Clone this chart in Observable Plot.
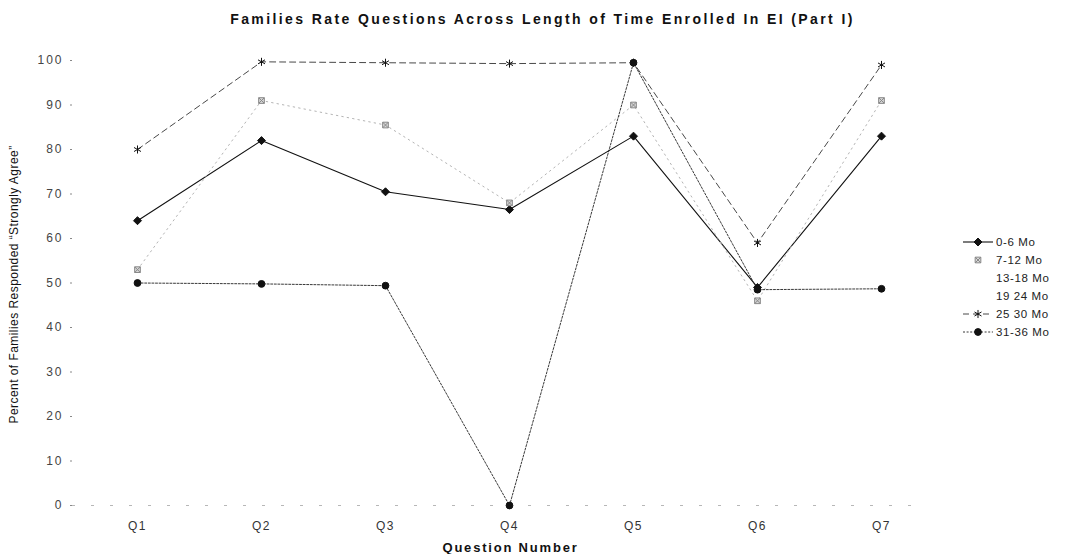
<!DOCTYPE html>
<html>
<head>
<meta charset="utf-8">
<script src="https://cdn.jsdelivr.net/npm/d3@7"></script>
<script src="https://cdn.jsdelivr.net/npm/@observablehq/plot@0.6"></script>
<style>
  html, body { margin: 0; padding: 0; background: #fff; }
  #wrap { position: relative; width: 1072px; height: 554px; font-family: "Liberation Sans", Arial, sans-serif; }
  #legend { position: absolute; left: 960px; top: 233px; font-size: 11.5px; color: #222; letter-spacing: 0.6px; }
  #legend .row { height: 18px; display: flex; align-items: center; }
  #legend svg { width: 36px; height: 18px; flex: none; }
</style>
</head>
<body>
<div id="wrap"></div>
<script>
// Question labels along the x axis
const questions = ["Q1", "Q2", "Q3", "Q4", "Q5", "Q6", "Q7"];

// Percent of families answering "Strongly Agree", by months enrolled
const mo0to6   = [64, 82, 70.5, 66.5, 83, 49, 83];
const mo7to12  = [53, 91, 85.5, 68, 90, 46, 91];
const mo25to30 = [80, 99.7, 99.5, 99.3, 99.5, 59, 99];
const mo31to36 = [50, 49.8, 49.4, 0, 99.5, 48.5, 48.7];

// Legend entries (13-18 and 19-24 carry no plotted values)
const seriesNames = ["0-6 Mo", "7-12 Mo", "13-18 Mo", "19 24 Mo", "25 30 Mo", "31-36 Mo"];

const yTicks = d3.range(0, 101, 10);

const titleText = "Families Rate Questions Across Length of Time Enrolled In EI (Part I)";
const xLabel = "Question Number";
const yLabel = "Percent of Families Responded \u201CStrongly Agree\u201D";

// Square with an X through it, for the 7-12 month series
const hatchSquare = {
  draw(ctx, size) {
    const r = Math.sqrt(size) / 2;
    ctx.moveTo(-r, -r); ctx.lineTo(r, -r); ctx.lineTo(r, r); ctx.lineTo(-r, r); ctx.closePath();
    ctx.moveTo(-r, -r); ctx.lineTo(r, r);
    ctx.moveTo(r, -r); ctx.lineTo(-r, r);
  }
};

const styles = {
  "0-6 Mo":   {values: mo0to6,   stroke: "#111", dash: null,    width: 1.1, symbol: "diamond2", d3sym: d3.symbolDiamond2, fill: "#111", mstroke: "#111", r: 3.6},
  "7-12 Mo":  {values: mo7to12,  stroke: "#b4b4b4", dash: "1.5,4", width: 1, symbol: hatchSquare, d3sym: hatchSquare, fill: "#d8d8d8", mstroke: "#888", r: 3.2},
  "25 30 Mo": {values: mo25to30, stroke: "#333", dash: "6,4",   width: 0.9, symbol: "asterisk", d3sym: d3.symbolAsterisk, fill: "none", mstroke: "#111", r: 3.8},
  "31-36 Mo": {values: mo31to36, stroke: "#222", dash: "2,1.6", width: 0.9, symbol: "circle", d3sym: d3.symbolCircle, fill: "#111", mstroke: "#111", r: 3.4}
};

const rows = [];
for (const [name, s] of Object.entries(styles)) {
  s.values.forEach((v, i) => rows.push({series: name, q: questions[i], v}));
}

const marks = [
  Plot.ruleY([0], {stroke: "#999", strokeDasharray: "3,16", strokeOpacity: 0.7}),
  Plot.axisY({ticks: yTicks, tickSize: 2, tickPadding: 7, fontSize: 12, color: "#444", stroke: "#888", label: null}),
  Plot.axisX({tickSize: 0, tickPadding: 16, fontSize: 12, color: "#333", label: null})
];

for (const [name, s] of Object.entries(styles)) {
  const data = rows.filter(d => d.series === name);
  marks.push(Plot.line(data, {x: "q", y: "v", stroke: s.stroke, strokeWidth: s.width, strokeDasharray: s.dash}));
}
for (const [name, s] of Object.entries(styles)) {
  const data = rows.filter(d => d.series === name);
  marks.push(Plot.dot(data, {x: "q", y: "v", symbol: s.symbol, r: s.r, fill: s.fill, stroke: s.mstroke, strokeWidth: 1}));
}

marks.push(
  Plot.text([titleText], {frameAnchor: "top", textAnchor: "middle", dy: -41, dx: 50, fontSize: 14, fontWeight: "bold", fill: "#111", lineAnchor: "middle"}),
  Plot.text([xLabel], {frameAnchor: "bottom", textAnchor: "middle", dy: 42, dx: 18, fontSize: 13, fontWeight: "bold", fill: "#111", lineAnchor: "middle"}),
  Plot.text([yLabel], {frameAnchor: "left", textAnchor: "middle", dx: -58, dy: 1.5, rotate: -90, fontSize: 12, fill: "#111", lineAnchor: "middle"})
);

const chart = Plot.plot({
  width: 1072,
  height: 554,
  marginLeft: 72,
  marginRight: 160,
  marginTop: 60,
  marginBottom: 49,
  style: {fontFamily: "'Liberation Sans', Arial, sans-serif", background: "#fff"},
  x: {type: "point", domain: questions, range: [135, 882], padding: 0},
  y: {domain: [0, 100]},
  marks
});

// Wide letter spacing for the text, as in the printed report
const svg = d3.select(chart);
svg.selectAll('g[aria-label="y-axis tick label"]').style("letter-spacing", "2px");
svg.selectAll('g[aria-label="x-axis tick label"]').style("letter-spacing", "1.5px");
const textGroups = svg.selectAll('g[aria-label="text"]').nodes();
const spacings = ["2.4px", "1.8px", "0.45px"];
textGroups.forEach((g, i) => d3.select(g).style("letter-spacing", spacings[i]));

const wrap = document.getElementById("wrap");
wrap.appendChild(chart);

// Legend built from the same series styles
const legend = document.createElement("div");
legend.id = "legend";
for (const name of seriesNames) {
  const s = styles[name];
  const row = document.createElement("div");
  row.className = "row";
  let sw = "";
  if (s) {
    const line = name === "7-12 Mo" ? "" :
      `<line x1="3" x2="33" y1="9" y2="9" stroke="${s.stroke}" stroke-width="${s.width}" ${s.dash ? `stroke-dasharray="${s.dash}"` : ""}/>`;
    const sym = d3.symbol(s.d3sym, Math.PI * s.r * s.r)();
    sw = `${line}<path transform="translate(18,9)" d="${sym}" fill="${s.fill}" stroke="${s.mstroke}" stroke-width="1"/>`;
  }
  row.innerHTML = `<svg viewBox="0 0 36 18">${sw}</svg><span>${name}</span>`;
  legend.appendChild(row);
}
wrap.appendChild(legend);
</script>
</body>
</html>
